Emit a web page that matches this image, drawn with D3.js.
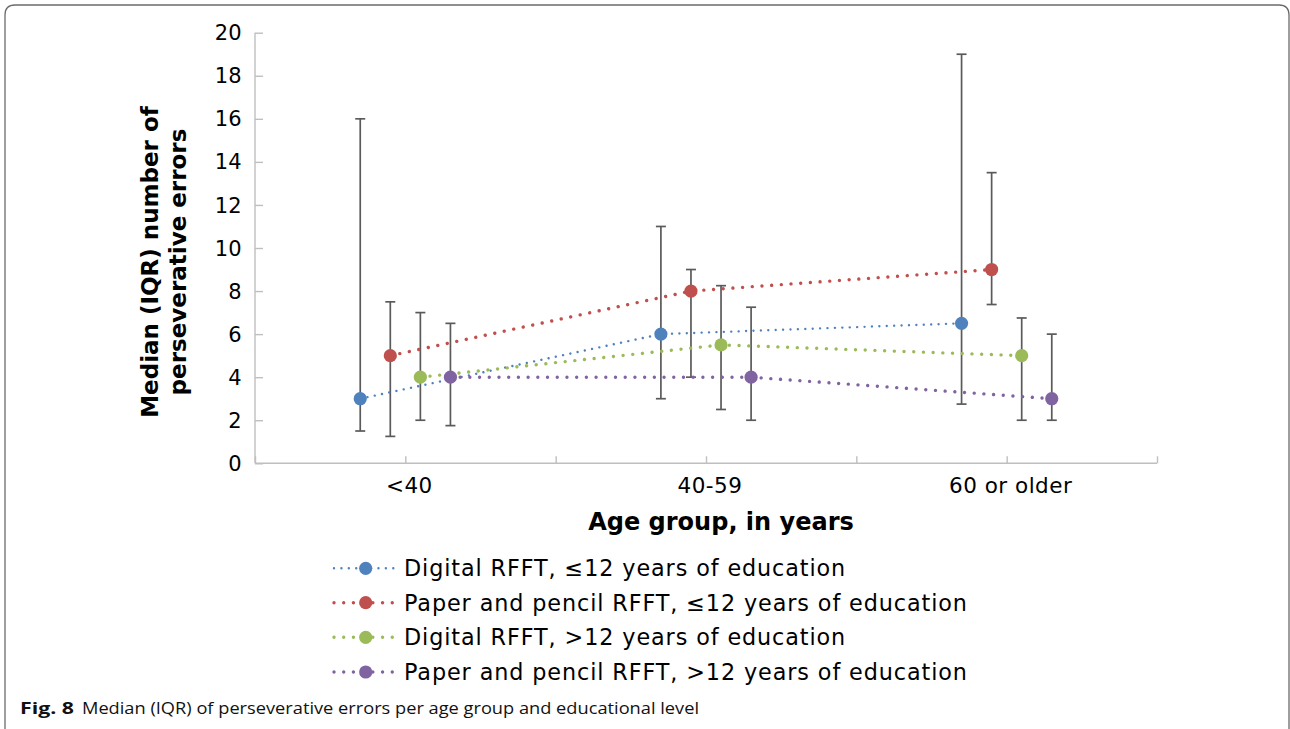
<!DOCTYPE html>
<html>
<head>
<meta charset="utf-8">
<script src="https://cdn.jsdelivr.net/npm/d3@7/dist/d3.min.js"></script>
<style>
  html, body { margin: 0; padding: 0; background: #ffffff; }
  svg { display: block; }
</style>
</head>
<body>
<svg id="chart" width="1290" height="729"></svg>
<script>
// Age groups and the y-axis tick values
const categories = ["<40", "40-59", "60 or older"];
const yTicks = [0, 2, 4, 6, 8, 10, 12, 14, 16, 18, 20];

// Series labels (legend order)
const seriesNames = [
  "Digital RFFT, \u226412 years of education",
  "Paper and pencil RFFT, \u226412 years of education",
  "Digital RFFT, >12 years of education",
  "Paper and pencil RFFT, >12 years of education"
];

// Median and interquartile range per age group
const digitalLowMedian = [3, 6, 6.5];
const digitalLowQ1     = [1.5, 3, 2.75];
const digitalLowQ3     = [16, 11, 19];

const paperLowMedian = [5, 8, 9];
const paperLowQ1     = [1.25, 4, 7.375];
const paperLowQ3     = [7.5, 9, 13.5];

const digitalHighMedian = [4, 5.5, 5];
const digitalHighQ1     = [2, 2.5, 2];
const digitalHighQ3     = [7, 8.25, 6.75];

const paperHighMedian = [4, 4, 3];
const paperHighQ1     = [1.75, 2, 2];
const paperHighQ3     = [6.5, 7.25, 6];

const colors = ["#4F81BD", "#C0504D", "#9BBB59", "#8064A2"];

const series = [
  { name: seriesNames[0], median: digitalLowMedian,  q1: digitalLowQ1,  q3: digitalLowQ3,  color: colors[0], w: 2.4, gap: 7.4 },
  { name: seriesNames[1], median: paperLowMedian,    q1: paperLowQ1,    q3: paperLowQ3,    color: colors[1], w: 3.4, gap: 9.7 },
  { name: seriesNames[2], median: digitalHighMedian, q1: digitalHighQ1, q3: digitalHighQ3, color: colors[2], w: 3.4, gap: 9.7 },
  { name: seriesNames[3], median: paperHighMedian,   q1: paperHighQ1,   q3: paperHighQ3,   color: colors[3], w: 3.4, gap: 9.7 }
];
// horizontal offset of each series inside its age group (in category units)
const offsets = [-0.3, -0.1, 0.1, 0.3];

const svg = d3.select("#chart");
const FONT = "'DejaVu Sans', Verdana, sans-serif";

// frame around the figure
svg.append("path")
  .attr("d", "M5,745 L5,15 Q5,5 15,5 L1279,5 Q1289,5 1289,15 L1289,745")
  .attr("fill", "none")
  .attr("stroke", "#6b6b6b")
  .attr("stroke-width", 1.3);

const plot = { left: 255, right: 1157, top: 32.7, bottom: 463.3 };

// x: two slots per age group, age groups centred on odd positions
const x = d3.scaleLinear().domain([0, categories.length * 2]).range([plot.left, plot.right]);
const catPos = i => 2 * i + 1;
const y = d3.scaleLinear().domain([0, 20]).range([plot.bottom, plot.top]);

const axisColor = "#bfbfbf";

// y axis (ticks pointing into the plot)
const yAxis = svg.append("g")
  .attr("transform", `translate(${plot.left},0)`)
  .call(d3.axisRight(y).tickValues(yTicks).tickSize(8).tickFormat(""));
yAxis.selectAll("path, line").attr("stroke", axisColor).attr("stroke-width", 1.4);
yAxis.select(".domain").attr("d", `M0,${plot.bottom}V${plot.top}`);

svg.append("g")
  .selectAll("text")
  .data(yTicks)
  .join("text")
  .attr("x", 242)
  .attr("y", d => y(d))
  .attr("dy", "0.36em")
  .attr("text-anchor", "end")
  .attr("font-family", FONT)
  .attr("font-size", 21)
  .attr("letter-spacing", 0.3)
  .attr("fill", "#000")
  .text(d => d);

// x axis (ticks at slot boundaries, pointing up)
const xAxis = svg.append("g")
  .attr("transform", `translate(0,${plot.bottom})`)
  .call(d3.axisTop(x).tickValues(d3.range(0, categories.length * 2 + 1)).tickSize(7).tickFormat(""));
xAxis.selectAll("path, line").attr("stroke", axisColor).attr("stroke-width", 1.4);
xAxis.select(".domain").attr("d", `M${plot.left},0H${plot.right}`);

svg.append("g")
  .selectAll("text")
  .data(categories)
  .join("text")
  .attr("x", (d, i) => x(catPos(i)) + 4)
  .attr("y", 485)
  .attr("dy", "0.36em")
  .attr("text-anchor", "middle")
  .attr("font-family", FONT)
  .attr("font-size", 21.5)
  .attr("letter-spacing", 0.5)
  .attr("fill", "#000")
  .text(d => d);

// axis titles
svg.append("text")
  .attr("x", x(3) + 15)
  .attr("y", 521)
  .attr("dy", "0.36em")
  .attr("text-anchor", "middle")
  .attr("font-family", FONT)
  .attr("font-weight", "bold")
  .attr("font-size", 24)
  .attr("fill", "#000")
  .text("Age group, in years");

const yTitle = svg.append("text")
  .attr("transform", "translate(150,262) rotate(-90)")
  .attr("text-anchor", "middle")
  .attr("font-family", FONT)
  .attr("font-weight", "bold")
  .attr("font-size", 23)
  .attr("fill", "#000");
yTitle.append("tspan").attr("x", 0).attr("y", 0).attr("dy", "0.36em").text("Median (IQR) number of");
yTitle.append("tspan").attr("x", 0).attr("y", 28).attr("dy", "0.36em").text("perseverative errors");

// error bars (IQR)
const barColor = "#5a5a5a";
series.forEach((s, si) => {
  const g = svg.append("g");
  categories.forEach((c, i) => {
    const cx = x(catPos(i) + offsets[si]);
    g.append("line")
      .attr("x1", cx).attr("x2", cx)
      .attr("y1", y(s.q1[i])).attr("y2", y(s.q3[i]))
      .attr("stroke", barColor).attr("stroke-width", 1.7);
    [s.q1[i], s.q3[i]].forEach(v => {
      g.append("line")
        .attr("x1", cx - 5).attr("x2", cx + 5)
        .attr("y1", y(v)).attr("y2", y(v))
        .attr("stroke", barColor).attr("stroke-width", 1.7);
    });
  });
});

// dotted median lines
const line = d3.line()
  .x(d => x(d.pos))
  .y(d => y(d.v));
series.forEach((s, si) => {
  const pts = s.median.map((v, i) => ({ pos: catPos(i) + offsets[si], v }));
  svg.append("path")
    .datum(pts)
    .attr("d", line)
    .attr("fill", "none")
    .attr("stroke", s.color)
    .attr("stroke-width", s.w)
    .attr("stroke-linecap", "round")
    .attr("stroke-dasharray", `0.01 ${s.gap}`);
});

// median markers
series.forEach((s, si) => {
  svg.append("g")
    .selectAll("circle")
    .data(s.median)
    .join("circle")
    .attr("cx", (d, i) => x(catPos(i) + offsets[si]))
    .attr("cy", d => y(d))
    .attr("r", 6.6)
    .attr("fill", s.color);
});

// legend
const legend = svg.append("g");
const legendRows = [568.3, 602.7, 637.3, 672];
series.forEach((s, si) => {
  const ly = legendRows[si];
  legend.append("line")
    .attr("x1", 334).attr("x2", 398)
    .attr("y1", ly).attr("y2", ly)
    .attr("stroke", s.color)
    .attr("stroke-width", s.w)
    .attr("stroke-linecap", "round")
    .attr("stroke-dasharray", `0.01 ${s.gap}`);
  legend.append("circle")
    .attr("cx", 365.7).attr("cy", ly).attr("r", 6.6)
    .attr("fill", s.color);
  legend.append("text")
    .attr("x", 404)
    .attr("y", ly)
    .attr("dy", "0.36em")
    .attr("font-family", FONT)
    .attr("font-size", 22.3)
    .attr("letter-spacing", 0.9)
    .attr("fill", "#000")
    .text(s.name);
});

// figure caption
const CAP_FONT = "'Open Sans', 'Noto Sans', sans-serif";
svg.append("text")
  .attr("x", 20).attr("y", 714)
  .attr("font-family", CAP_FONT)
  .attr("font-weight", "bold")
  .attr("font-size", 16.5)
  .attr("textLength", 54)
  .attr("lengthAdjust", "spacingAndGlyphs")
  .attr("fill", "#111")
  .text("Fig. 8");
svg.append("text")
  .attr("x", 82).attr("y", 714)
  .attr("font-family", CAP_FONT)
  .attr("font-size", 16.5)
  .attr("textLength", 617)
  .attr("lengthAdjust", "spacingAndGlyphs")
  .attr("fill", "#111")
  .text("Median (IQR) of perseverative errors per age group and educational level");
</script>
</body>
</html>
